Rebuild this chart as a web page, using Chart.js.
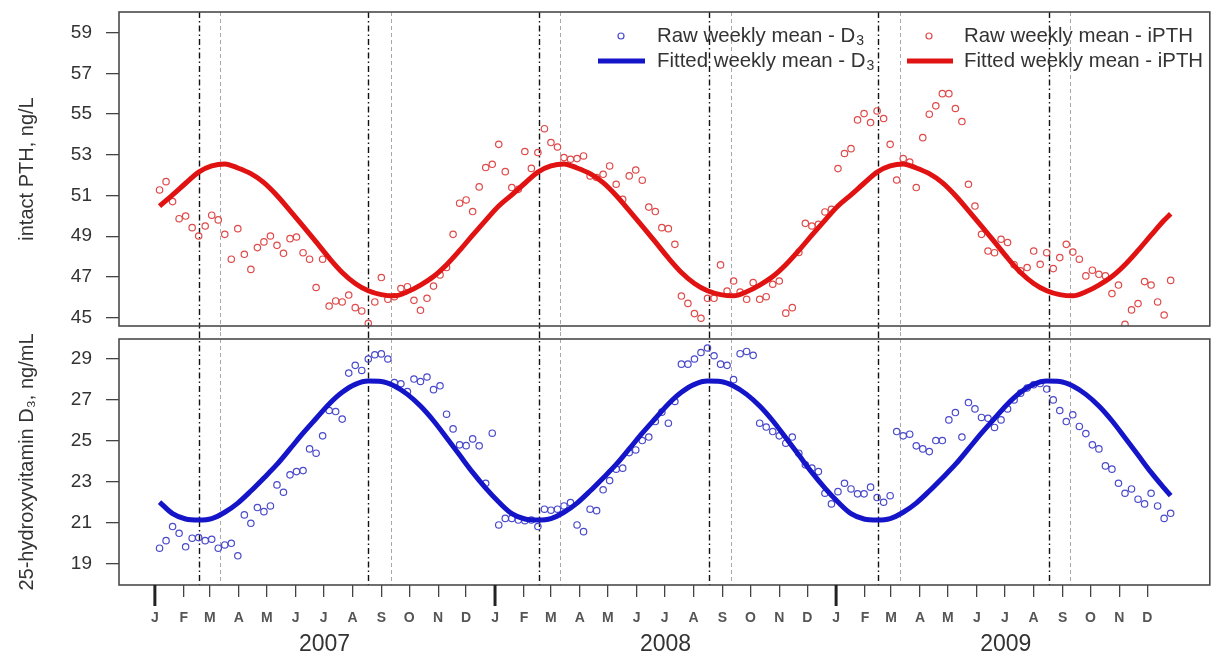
<!DOCTYPE html>
<html>
<head>
<meta charset="utf-8">
<script src="https://cdn.jsdelivr.net/npm/chart.js@4.4.1/dist/chart.umd.min.js"></script>
<style>
  html, body { margin: 0; padding: 0; background: #fff; }
  #wrap { position: relative; width: 1215px; height: 656px; }
  #top { position: absolute; left: 0; top: 0; }
  #bot { position: absolute; left: 0; top: 332px; }
</style>
</head>
<body>
<div id="wrap">
  <canvas id="top" width="1215" height="332" style="width:1215px;height:332px"></canvas>
  <canvas id="bot" width="1215" height="324" style="width:1215px;height:324px"></canvas>
</div>
<script>
// x axis is in days since 1 Jan 2007, one raw point per week
const firstDay = 5;
const xMin = -38.5;
const xMax = 1132;

const monthLabels = ['J', 'F', 'M', 'A', 'M', 'J', 'J', 'A', 'S', 'O', 'N', 'D'];
const yearLabels = ['2007', '2008', '2009'];
const pthTicks = [45, 47, 49, 51, 53, 55, 57, 59];
const d3Ticks = [19, 21, 23, 25, 27, 29];

// raw weekly means, week 0..155
const pthRaw = [
  51.27, 51.68, 50.70, 49.86, 49.99, 49.42, 49.01, 49.50, 50.03, 49.80, 49.09, 47.87, 49.37, 48.11, 47.37, 48.44,
  48.72, 49.01, 48.55, 48.16, 48.88, 48.96, 48.19, 47.87, 46.48, 47.87, 45.57, 45.82, 45.77, 46.11, 45.49, 45.33,
  44.72, 45.77, 46.97, 45.90, 46.03, 46.43, 46.52, 45.85, 45.36, 45.95, 46.55, 47.10, 47.46, 49.09, 50.62, 50.78,
  50.21, 51.42, 52.37, 52.53, 53.51, 52.17, 51.39, 51.30, 53.16, 52.33, 53.11, 54.28, 53.60, 53.38, 52.86, 52.78,
  52.81, 52.94, 51.96, 51.88, 52.04, 52.45, 51.55, 50.81, 51.96, 52.25, 51.75, 50.43, 50.21, 49.42, 49.37, 48.60,
  46.06, 45.70, 45.20, 44.97, 45.95, 45.95, 47.59, 46.31, 46.80, 46.26, 45.90, 46.72, 45.90, 46.03, 46.64, 46.80,
  45.22, 45.49, 48.20, 49.63, 49.50, 49.58, 50.19, 50.32, 52.32, 53.06, 53.30, 54.71, 55.02, 54.58, 55.15, 54.78,
  53.51, 51.76, 52.81, 52.64, 51.39, 53.84, 54.99, 55.40, 56.00, 56.00, 55.27, 54.63, 51.55, 50.48, 49.09, 48.27,
  48.19, 48.85, 48.69, 47.60, 47.30, 47.46, 48.27, 47.62, 48.19, 47.41, 47.95, 48.60, 48.22, 47.87, 47.05, 47.33,
  47.13, 47.05, 46.18, 46.60, 44.67, 45.38, 45.69, 46.77, 46.60, 45.77, 45.13, 46.83
];
const d3Raw = [
  19.74, 20.11, 20.80, 20.47, 19.81, 20.23, 20.26, 20.11, 20.18, 19.74, 19.90, 19.98, 19.37, 21.37, 20.96, 21.73,
  21.53, 21.81, 22.84, 22.48, 23.33, 23.49, 23.54, 24.60, 24.39, 25.24, 26.48, 26.43, 26.06, 28.31, 28.69, 28.44,
  29.00, 29.21, 29.25, 29.00, 27.85, 27.79, 27.41, 28.02, 27.90, 28.12, 27.50, 27.69, 26.30, 25.58, 24.80, 24.76,
  25.09, 24.75, 22.92, 25.37, 20.88, 21.20, 21.20, 21.12, 21.09, 21.12, 20.80, 21.65, 21.60, 21.65, 21.81, 21.97,
  20.88, 20.55, 21.65, 21.58, 22.60, 23.05, 23.61, 23.66, 24.42, 24.55, 25.01, 25.18, 25.94, 26.40, 25.86, 26.92,
  28.75, 28.75, 29.00, 29.32, 29.54, 29.16, 28.75, 28.69, 27.99, 29.26, 29.37, 29.18, 25.86, 25.67, 25.45, 25.24,
  24.88, 25.18, 24.39, 23.82, 23.66, 23.49, 22.43, 21.91, 22.51, 22.92, 22.64, 22.40, 22.40, 22.73, 22.22, 21.99,
  22.31, 25.45, 25.24, 25.32, 24.75, 24.60, 24.47, 25.01, 25.01, 26.02, 26.38, 25.18, 26.87, 26.56, 26.14, 26.10,
  25.65, 26.02, 26.56, 27.00, 27.33, 27.58, 27.74, 27.80, 27.53, 27.00, 26.48, 25.94, 26.27, 25.70, 25.35, 24.80,
  24.60, 23.77, 23.61, 22.92, 22.43, 22.64, 22.14, 21.91, 22.43, 21.81, 21.20, 21.45
];

// fitted curves, read every 2 weeks (week 0, 2, ... 154) plus the last week 155
const pthFit = [
  50.48, 51.03, 51.60, 52.15, 52.45, 52.55, 52.35, 52.07, 51.63, 51.00, 50.26, 49.50, 48.72, 47.93, 47.22, 46.68,
  46.32, 46.13, 46.07, 46.27, 46.60, 47.02, 47.60, 48.30, 49.05, 49.78,
  50.48, 51.03, 51.60, 52.15, 52.45, 52.55, 52.35, 52.07, 51.63, 51.00, 50.26, 49.50, 48.72, 47.93, 47.22, 46.68,
  46.32, 46.13, 46.07, 46.27, 46.60, 47.02, 47.60, 48.30, 49.05, 49.78,
  50.48, 51.03, 51.60, 52.15, 52.45, 52.55, 52.35, 52.07, 51.63, 51.00, 50.26, 49.50, 48.72, 47.93, 47.22, 46.68,
  46.32, 46.13, 46.07, 46.27, 46.60, 47.02, 47.60, 48.30, 49.05, 49.78,
  50.10
];
const d3Fit = [
  22.00, 21.43, 21.17, 21.12, 21.19, 21.50, 21.95, 22.54, 23.18, 23.84, 24.60, 25.37, 26.09, 26.80, 27.37, 27.76,
  27.92, 27.90, 27.68, 27.27, 26.70, 25.98, 25.15, 24.30, 23.45, 22.68,
  22.00, 21.43, 21.17, 21.12, 21.19, 21.50, 21.95, 22.54, 23.18, 23.84, 24.60, 25.37, 26.09, 26.80, 27.37, 27.76,
  27.92, 27.90, 27.68, 27.27, 26.70, 25.98, 25.15, 24.30, 23.45, 22.68,
  22.00, 21.43, 21.17, 21.12, 21.19, 21.50, 21.95, 22.54, 23.18, 23.84, 24.60, 25.37, 26.09, 26.80, 27.37, 27.76,
  27.92, 27.90, 27.68, 27.27, 26.70, 25.98, 25.15, 24.30, 23.45, 22.68,
  22.31
];

// turning points of the fitted curves (days)
const d3TurnDays = [47.3, 229.0, 411.8, 595.0, 776.0, 959.5];
const pthTurnDays = [70.2, 253.6, 434.7, 618.1, 799.8, 981.5];

const monthDays = [];
const yearMidDays = [];
[2007, 2008, 2009].forEach(y => {
  for (let m = 0; m < 12; m++) monthDays.push((Date.UTC(y, m, 1) - Date.UTC(2007, 0, 1)) / 864e5);
  yearMidDays.push((Date.UTC(y, 6, 2) - Date.UTC(2007, 0, 1)) / 864e5);
});

const RED_PT = '#df4a4a', RED_LINE = '#e01212';
const BLUE_PT = '#4a4acb', BLUE_LINE = '#1414c8';
const FONT = '"Liberation Sans", Arial, sans-serif';

function rawPoints(vals) {
  return vals.map((v, i) => ({ x: firstDay + 7 * i, y: v }));
}
function fitPoints(vals) {
  const last = vals.length - 1;
  return vals.map((v, k) => ({ x: k === last ? firstDay + 7 * 155 : firstDay + 14 * k, y: v }));
}

const seasonLines = {
  id: 'seasonLines',
  beforeDatasetsDraw(chart, args, opts) {
    const { ctx, chartArea } = chart;
    const xs = chart.scales.x;
    const y0 = opts.up ? 0 : chartArea.top;
    const y1 = opts.down ? chart.height : chartArea.bottom;
    ctx.save();
    ctx.lineWidth = 1;
    ctx.strokeStyle = '#a8a8a8';
    ctx.setLineDash([4, 3]);
    pthTurnDays.forEach(d => {
      const x = Math.round(xs.getPixelForValue(d)) + 0.5;
      ctx.beginPath(); ctx.moveTo(x, y0); ctx.lineTo(x, y1); ctx.stroke();
    });
    ctx.lineWidth = 1.4;
    ctx.strokeStyle = '#111';
    ctx.setLineDash([6, 3, 1.5, 3]);
    d3TurnDays.forEach(d => {
      const x = Math.round(xs.getPixelForValue(d)) + 0.5;
      ctx.beginPath(); ctx.moveTo(x, y0); ctx.lineTo(x, y1); ctx.stroke();
    });
    ctx.restore();
  }
};

const boxPlugin = {
  id: 'box',
  afterDraw(chart) {
    const { ctx, chartArea: a } = chart;
    ctx.save();
    ctx.strokeStyle = '#4a4a4a';
    ctx.lineWidth = 1.6;
    ctx.strokeRect(a.left, a.top, a.right - a.left, a.bottom - a.top);
    ctx.restore();
  }
};

const janTicks = {
  id: 'janTicks',
  afterDraw(chart) {
    const { ctx, chartArea } = chart;
    const xs = chart.scales.x;
    ctx.save();
    ctx.strokeStyle = '#222';
    ctx.lineWidth = 3;
    monthDays.forEach((d, i) => {
      if (i % 12 !== 0) return;
      const x = xs.getPixelForValue(d);
      ctx.beginPath(); ctx.moveTo(x, chartArea.bottom); ctx.lineTo(x, chartArea.bottom + 21); ctx.stroke();
    });
    ctx.restore();
  }
};

function drawSubText(ctx, x, y, main, sub, size) {
  ctx.font = size + 'px ' + FONT;
  ctx.textBaseline = 'middle';
  ctx.fillText(main, x, y);
  if (sub) {
    const w = ctx.measureText(main).width;
    ctx.font = Math.round(size * 0.7) + 'px ' + FONT;
    ctx.fillText(sub, x + w + 1, y + 5);
  }
}

const legendPlugin = {
  id: 'rLegend',
  afterDraw(chart) {
    const { ctx } = chart;
    const rows = [36, 61];
    const cols = [
      { sym: 621, line: [598, 645], text: 657, pt: BLUE_PT, ln: BLUE_LINE, raw: ['Raw weekly mean - D', '3'], fit: ['Fitted weekly mean - D', '3'] },
      { sym: 929, line: [907, 953], text: 964, pt: RED_PT, ln: RED_LINE, raw: ['Raw weekly mean - iPTH', ''], fit: ['Fitted weekly mean - iPTH', ''] }
    ];
    ctx.save();
    cols.forEach(c => {
      ctx.strokeStyle = c.pt;
      ctx.lineWidth = 1.2;
      ctx.beginPath(); ctx.arc(c.sym, rows[0], 3, 0, Math.PI * 2); ctx.stroke();
      ctx.strokeStyle = c.ln;
      ctx.lineWidth = 5;
      ctx.beginPath(); ctx.moveTo(c.line[0], rows[1]); ctx.lineTo(c.line[1], rows[1]); ctx.stroke();
      ctx.fillStyle = '#333';
      drawSubText(ctx, c.text, rows[0], c.raw[0], c.raw[1], 20.4);
      drawSubText(ctx, c.text, rows[1], c.fit[0], c.fit[1], 20.4);
    });
    ctx.restore();
  }
};

function yAxis(min, max, ticks, title) {
  return {
    min: min, max: max,
    afterBuildTicks: s => { s.ticks = ticks.map(v => ({ value: v })); },
    afterFit: s => { s.width = 119; s.paddingTop = 0; s.paddingBottom = 0; },
    ticks: { font: { family: FONT, size: 19 }, color: '#333', padding: 14 },
    grid: { drawOnChartArea: false, tickLength: 13, color: '#444', lineWidth: 1.3 },
    border: { display: false },
    title: { display: true, text: title, color: '#333', font: { family: FONT, size: 20 }, padding: { top: 15, bottom: 0 } }
  };
}

function noSidePad(s) { s.paddingLeft = 0; s.paddingRight = 0; }

new Chart(document.getElementById('top'), {
  type: 'scatter',
  data: {
    datasets: [
      { type: 'line', label: 'Fitted weekly mean - iPTH', data: fitPoints(pthFit), borderColor: RED_LINE, borderWidth: 5,
        pointRadius: 0, cubicInterpolationMode: 'monotone', fill: false, order: 0 },
      { label: 'Raw weekly mean - iPTH', data: rawPoints(pthRaw), pointRadius: 3.2, borderColor: RED_PT,
        backgroundColor: 'rgba(0,0,0,0)', pointBorderWidth: 1.2, showLine: false, order: 1 }
    ]
  },
  options: {
    responsive: false, animation: false,
    layout: { padding: { top: 12, right: 1, bottom: 6, left: 0 } },
    plugins: { legend: { display: false }, tooltip: { enabled: false }, seasonLines: { down: true } },
    scales: {
      x: { type: 'linear', display: false, min: xMin, max: xMax },
      y: yAxis(44.59, 60.01, pthTicks, 'intact PTH, ng/L')
    }
  },
  plugins: [seasonLines, boxPlugin, legendPlugin]
});

new Chart(document.getElementById('bot'), {
  type: 'scatter',
  data: {
    datasets: [
      { type: 'line', label: 'Fitted weekly mean - D3', data: fitPoints(d3Fit), borderColor: BLUE_LINE, borderWidth: 5,
        pointRadius: 0, cubicInterpolationMode: 'monotone', fill: false, order: 0 },
      { label: 'Raw weekly mean - D3', data: rawPoints(d3Raw), pointRadius: 3.2, borderColor: BLUE_PT,
        backgroundColor: 'rgba(0,0,0,0)', pointBorderWidth: 1.2, showLine: false, order: 1 }
    ]
  },
  options: {
    responsive: false, animation: false,
    layout: { padding: { top: 7, right: 1, bottom: 0, left: 0 } },
    plugins: { legend: { display: false }, tooltip: { enabled: false }, seasonLines: { up: true } },
    scales: {
      x: {
        type: 'linear', position: 'bottom', min: xMin, max: xMax,
        afterBuildTicks: s => { s.ticks = monthDays.map(v => ({ value: v })); },
        afterFit: s => { s.height = 42; noSidePad(s); },
        ticks: { autoSkip: false, maxRotation: 0, padding: 13, color: '#555',
          font: { family: FONT, size: 14, weight: 'bold' },
          callback: (v, i) => monthLabels[i % 12] },
        grid: { drawOnChartArea: false, tickLength: 12, color: '#444', lineWidth: 1.3 },
        border: { display: false }
      },
      xYear: {
        type: 'linear', axis: 'x', position: 'bottom', weight: 1, min: xMin, max: xMax,
        afterBuildTicks: s => { s.ticks = yearMidDays.map(v => ({ value: v })); },
        afterFit: s => { s.height = 29; noSidePad(s); },
        ticks: { autoSkip: false, maxRotation: 0, padding: 4, color: '#333',
          font: { family: FONT, size: 23 }, callback: (v, i) => yearLabels[i] },
        grid: { display: false, drawTicks: false },
        border: { display: false }
      },
      y: yAxis(17.94, 29.98, d3Ticks, '25-hydroxyvitamin D\u2083, ng/mL')
    }
  },
  plugins: [seasonLines, boxPlugin, janTicks]
});
</script>
</body>
</html>
